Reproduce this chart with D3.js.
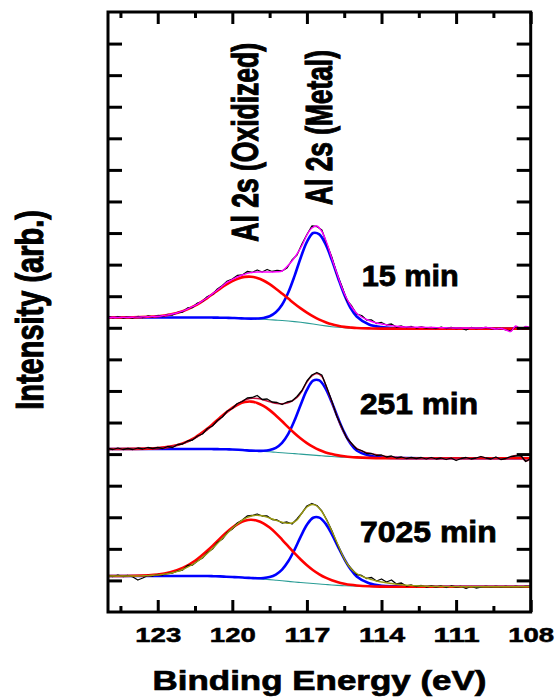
<!DOCTYPE html>
<html><head><meta charset="utf-8">
<script src="https://cdn.jsdelivr.net/npm/d3@7"></script>
<style>
html,body{margin:0;padding:0;background:#fff;}
svg{display:block;font-family:Arial,"Liberation Sans",Helvetica,sans-serif;}
</style>
</head><body>
<svg id="chart" width="558" height="700"></svg>
<script>
// ---------------- DATA ----------------
const xMajorTicks = [123, 120, 117, 114, 111, 108];
const xMinorTicks = [124.5, 121.5, 118.5, 115.5, 112.5, 109.5];
const yTickCount = 19;
const spectrumLabels = ["15 min", "251 min", "7025 min"];
const peakLabels = ["Al 2s (Oxidized)", "Al 2s (Metal)"];

// energy grid of the fitted curves (eV)
const fitEnergy = [125,124,123,122.5,122,121.5,121,120.75,120.5,120.25,120,119.75,119.5,119.25,119,118.75,118.5,118.25,118,117.75,117.5,117.25,117,116.75,116.5,116.25,116,115.75,115.5,115.25,115,114.5,114,113.5,113,112,111,110,109,108];
// energy grid of the measured spectra (eV)
const rawEnergy = [125,124.8,124.6,124.4,124.2,124,123.8,123.6,123.4,123.2,123,122.8,122.6,122.4,122.2,122,121.8,121.6,121.4,121.2,121,120.8,120.6,120.4,120.2,120,119.8,119.6,119.4,119.2,119,118.8,118.6,118.4,118.2,118,117.8,117.6,117.4,117.2,117,116.8,116.6,116.4,116.2,116,115.8,115.6,115.4,115.2,115,114.8,114.6,114.4,114.2,114,113.8,113.6,113.4,113.2,113,112.8,112.6,112.4,112.2,112,111.8,111.6,111.4,111.2,111,110.8,110.6,110.4,110.2,110,109.8,109.6,109.4,109.2,109,108.8,108.6,108.4,108.2,108];

// ---- 15 min (offset spectrum, arb. units) ----
const base15 = [294.5,294.5,294.5,294.5,294.5,294.5,294.5,294.4,294.3,294.2,294.0,293.8,293.5,293.3,293.0,292.7,292.3,291.9,291.5,291.0,290.4,289.7,288.9,288.0,287.0,286.1,285.3,284.7,284.2,283.9,283.7,283.5,283.4,283.4,283.4,283.4,283.4,283.4,283.4,283.4];
const oxid15 = [294.5,294.6,295.7,297.4,300.7,306.3,314.2,318.6,323.1,327.3,330.9,333.6,335.1,335.3,334.0,331.5,327.8,323.3,318.4,313.4,308.3,303.6,299.4,295.6,292.4,289.8,287.7,286.2,285.1,284.5,284.0,283.6,283.4,283.4,283.4,283.4,283.4,283.4,283.4,283.4];
const metal15 = [294.5,294.5,294.5,294.5,294.5,294.5,294.5,294.4,294.3,294.2,294.0,293.8,293.5,293.4,293.5,294.0,295.7,299.7,307.3,319.5,335.9,354.3,370.2,379.0,377.6,367.8,352.1,334.3,317.5,304.2,295.5,287.5,284.9,283.9,283.6,283.4,283.4,283.4,283.4,283.4];
const env15 = [294.5,294.5,294.6,294.6,294.7,294.8,294.9,295.1,295.3,295.5,295.7,296.3,297.1,298.0,299.3,300.8,303.0,305.3,307.9,311.2,314.5,318.1,322,326,329.8,332.5,335,337,338.6,339.6,340,340,340,340,340.2,341,345.5,351,358,366.5,377,384,386,380.5,369,353.7,339,325,313.5,305,298.7,295,292.5,290.5,289,288,287.2,286.4,285.8,285.3,285,284.9,284.8,284.7,284.6,284.5,284.4,284.3,284.2,284.1,284,284,284,284,284,284,284.5,284,283,283.5,282,280.5,286,283,285.5,284];
const raw15 = [296,294,295.5,294,295,294,295.5,294.5,296,295,296.5,295.5,297.5,297,299.5,300,304,304.5,309,310.5,315.5,317.5,323,326.5,331,333,336.5,337,340.5,339.5,342,340,342.5,340.5,341.5,341,344,352,357,368,377.5,386,385.5,382,368,355,338,326,312,306,298,296.5,292,292,288.5,289.5,287,288,285,286,284.5,285.5,284,285,284,284.5,283.5,285,283.5,284.5,283.5,284,282,284.5,283.5,284,284.5,283.5,283,283.5,282,281,285.5,283.5,285,284];

// ---- 251 min ----
const base251 = [163.0,163.0,163.0,163.0,163.0,163.0,163.0,162.9,162.8,162.7,162.5,162.2,161.8,161.4,161.0,160.6,160.2,159.7,159.3,158.8,158.4,157.9,157.4,156.9,156.4,155.9,155.5,155.1,154.8,154.5,154.3,154.0,153.8,153.8,153.8,153.8,153.8,153.8,153.8,153.8];
const oxid251 = [163.0,163.1,163.9,165.4,168.6,174.5,183.4,188.7,194.2,199.5,204.2,207.8,209.9,210.4,209.1,206.2,201.9,196.5,190.7,184.6,178.8,173.5,168.9,165.1,162.0,159.6,157.9,156.6,155.7,155.0,154.6,154.1,153.8,153.8,153.8,153.8,153.8,153.8,153.8,153.8];
const metal251 = [163.0,163.0,163.0,163.0,163.0,163.0,163.0,162.9,162.8,162.7,162.5,162.2,161.8,161.4,161.2,161.2,162.0,164.2,169.2,178.2,191.4,207.3,222.1,231.4,231.6,223.5,209.7,193.9,179.6,168.6,161.5,156.5,154.6,154.1,153.9,153.8,153.8,153.8,153.8,153.8];
const env251 = [163,163,163,163.1,163.1,163.2,163.3,163.4,163.6,163.8,164.1,164.5,165.1,165.9,167,168.4,170.2,172.5,175.3,178.6,182.3,186.5,190.8,195.5,200,204,207.7,210.8,212.8,213.7,213.5,212.5,211,209.5,208.5,208.3,209,211,214.5,221,230,236,238.5,235.5,224,210,196.5,184,174.5,168,163.7,161,159.3,158.2,157.2,156.3,155.6,155.1,154.7,154.4,154.2,154.1,154,154,153.9,153.9,153.8,153.8,153.8,153.8,153.6,153.7,153.8,153.8,153.8,155,154,153.5,154.5,153,153.3,155,156.5,156,151,153.5];
const raw251 = [163.5,162.5,164,162.5,163.5,162.5,164,163,164.5,163.5,164.5,163.5,165.5,164.5,167.5,168,171,172,176,178,183.5,186,191.5,195,201,203.5,208.5,210.5,214,214.5,216.5,212.5,213,210,209.5,207.5,210,211,215.5,221.5,231,237,239.5,237,224.5,211,196,185,174,168.5,163,161.5,158.5,158.5,156.5,157,155,156,154,155,153.5,154.5,153.5,154.5,153,154.5,153,154,152.5,154,151.5,153.5,154.5,153,154,155.5,154,153,155,152.5,153.5,155.5,156,156.5,150.5,153.5];

// ---- 7025 min ----
const base7025 = [36.0,36.0,36.0,36.0,36.0,36.0,36.0,35.8,35.6,35.3,35.0,34.7,34.3,33.9,33.4,32.9,32.4,31.8,31.2,30.6,30.0,29.5,29.0,28.5,28.0,27.5,27.0,26.6,26.3,26.0,25.8,25.5,25.3,25.3,25.3,25.3,25.3,25.3,25.3,25.3];
const oxid7025 = [36.0,36.2,37.5,39.7,44.0,51.2,61.5,67.3,73.4,79.2,84.4,88.5,91.2,92.2,91.3,88.7,84.4,78.9,72.4,65.6,58.8,52.5,46.8,41.8,37.7,34.3,31.7,29.7,28.3,27.2,26.5,25.7,25.4,25.3,25.3,25.3,25.3,25.3,25.3,25.3];
const metal7025 = [36.0,36.0,36.0,36.0,36.0,36.0,36.0,35.8,35.6,35.3,35.0,34.7,34.3,34.0,33.7,33.9,34.9,37.4,42.4,50.7,62.2,75.4,87.2,94.3,94.4,88.4,77.9,65.3,53.2,43.0,35.6,28.7,26.3,25.6,25.4,25.3,25.3,25.3,25.3,25.3];
const env7025 = [36,36,36,36,36,36,36,36.2,36.4,36.7,37.1,37.6,38.3,39.3,40.7,42.5,44.8,47.5,50.8,54.6,58.8,63.5,68.5,73.7,78.8,83.7,88,91.8,94.6,96.3,96.8,96.2,94.8,93,91.3,89.8,88.8,89,92,99,105,107.5,106,100.5,91.5,81,70,58.5,49,42.5,38.5,35.8,33.8,32.3,31,30,29.2,28.5,27.8,27.2,26.8,26.5,26.2,26,25.8,25.6,25.5,25.5,25.4,25.4,25.4,25.3,25.3,25.3,25.3,25.3,25.3,25.3,25.3,25.3,25.3,25.3,25.3,25.3,25.3,25.3];
const raw7025 = [36.5,35.5,37,35.5,36.5,35,32,34,36.5,36,37.5,37,38.5,39,41,42,46.5,47,51,54,59.5,63,69.5,73,79.5,83,89,92,96,96.5,98,96,96,92.5,92,89,90,88,93,99,106,108.5,106.5,101,92,81.5,69,58,48.5,43,37.5,36.5,33.5,34.5,31,33,30,32,28,29,26,27,25.5,26.5,25,26,25,26,24.5,26,25,25.5,23.5,25.5,24,25,25.5,25,25.5,25,25.5,25,25.5,25,25.5,25.5];

// ---------------- LAYOUT / STYLE ----------------
const W = 558, H = 700;
const plot = {left: 108, right: 530.7, top: 12, bottom: 612};
const styles = {
  base: {color: "#2a9d96", width: 1.1},
  oxid: {color: "#ff0000", width: 2.6},
  metal: {color: "#0000ff", width: 2.6},
  raw: {color: "#000000", width: 1.3},
  env: ["#ff00ff", "#c8103c", "#9a9a10"],
  envOnTop: [true, false, true]
};

const spectra = [
  {label: spectrumLabels[0], base: base15, oxid: oxid15, metal: metal15, env: env15, raw: raw15},
  {label: spectrumLabels[1], base: base251, oxid: oxid251, metal: metal251, env: env251, raw: raw251},
  {label: spectrumLabels[2], base: base7025, oxid: oxid7025, metal: metal7025, env: env7025, raw: raw7025}
];

const svg = d3.select("#chart");
svg.append("rect").attr("width", W).attr("height", H).attr("fill", "#fff");

const x = d3.scaleLinear().domain([125, 108]).range([plot.left, plot.right]);
const y = d3.scaleLinear().domain([0, 600]).range([plot.bottom, plot.top]);

svg.append("clipPath").attr("id", "clip").append("rect")
  .attr("x", plot.left).attr("y", plot.top)
  .attr("width", plot.right - plot.left).attr("height", plot.bottom - plot.top);

const g = svg.append("g").attr("clip-path", "url(#clip)");

const fitLine = d3.line().x((d, i) => x(fitEnergy[i])).y(d => y(d)).curve(d3.curveCatmullRom.alpha(0.5));
const envLine = d3.line().x((d, i) => x(rawEnergy[i])).y(d => y(d)).curve(d3.curveCatmullRom.alpha(0.5));
const rawLine = d3.line().x((d, i) => x(rawEnergy[i])).y(d => y(d));

function drawPath(data, gen, color, width) {
  g.append("path").datum(data).attr("d", gen)
    .attr("fill", "none").attr("stroke", color).attr("stroke-width", width)
    .attr("stroke-linejoin", "round").attr("stroke-linecap", "round");
}

spectra.forEach((s, k) => {
  drawPath(s.base, fitLine, styles.base.color, styles.base.width);
  drawPath(s.metal, fitLine, styles.metal.color, styles.metal.width);
  drawPath(s.oxid, fitLine, styles.oxid.color, styles.oxid.width);
  if (!styles.envOnTop[k]) drawPath(s.env, envLine, styles.env[k], 1.5);
  drawPath(s.raw, rawLine, styles.raw.color, styles.raw.width);
  if (styles.envOnTop[k]) drawPath(s.env, envLine, styles.env[k], 1.4);
});

// ---------------- AXES ----------------
const yTicks = d3.range(1, yTickCount).map(k => k * 600 / yTickCount);

function styleAxis(sel) {
  sel.selectAll(".domain").remove();
  sel.selectAll(".tick line").attr("stroke", "#000").attr("stroke-width", 3);
}

const bottomMajor = svg.append("g").attr("transform", `translate(0,${plot.bottom})`)
  .call(d3.axisBottom(x).tickValues(xMajorTicks).tickSizeInner(-12).tickSizeOuter(0).tickPadding(16).tickFormat(d3.format("d")));
styleAxis(bottomMajor);
bottomMajor.selectAll(".tick text")
  .attr("fill", "#000").attr("font-size", 20).attr("font-weight", "bold")
  .attr("font-family", "Arial, 'Liberation Sans', sans-serif")
  .attr("stroke", "#000").attr("stroke-width", 0.5)
  .attr("textLength", 46).attr("lengthAdjust", "spacingAndGlyphs");

svg.append("g").attr("transform", `translate(0,${plot.bottom})`)
  .call(d3.axisBottom(x).tickValues(xMinorTicks).tickSizeInner(-6).tickSizeOuter(0).tickFormat(""))
  .call(styleAxis);
svg.append("g").attr("transform", `translate(0,${plot.top})`)
  .call(d3.axisTop(x).tickValues(xMajorTicks).tickSizeInner(-12).tickSizeOuter(0).tickFormat(""))
  .call(styleAxis);
svg.append("g").attr("transform", `translate(0,${plot.top})`)
  .call(d3.axisTop(x).tickValues(xMinorTicks).tickSizeInner(-6).tickSizeOuter(0).tickFormat(""))
  .call(styleAxis);
svg.append("g").attr("transform", `translate(${plot.left},0)`)
  .call(d3.axisLeft(y).tickValues(yTicks).tickSizeInner(-14).tickSizeOuter(0).tickFormat(""))
  .call(styleAxis);
svg.append("g").attr("transform", `translate(${plot.right},0)`)
  .call(d3.axisRight(y).tickValues(yTicks).tickSizeInner(-14).tickSizeOuter(0).tickFormat(""))
  .call(styleAxis);

svg.append("rect")
  .attr("x", plot.left).attr("y", plot.top)
  .attr("width", plot.right - plot.left).attr("height", plot.bottom - plot.top)
  .attr("fill", "none").attr("stroke", "#000").attr("stroke-width", 3);

// ---------------- TEXT ----------------
function addText(txt, opts) {
  const t = svg.append("text")
    .attr("transform", opts.transform)
    .attr("text-anchor", opts.anchor || "middle")
    .attr("font-size", opts.size)
    .attr("font-weight", "bold")
    .attr("fill", "#000")
    .attr("stroke", "#000")
    .attr("stroke-width", opts.sw || 0.6)
    .text(txt);
  if (opts.len) t.attr("textLength", opts.len).attr("lengthAdjust", "spacingAndGlyphs");
  return t;
}

addText("Binding Energy (eV)", {transform: "translate(319.5,690)", size: 28, len: 334, sw: 0.7});
// rotated labels: glyphs stretched across the baseline as in the reference
addText("Intensity (arb.)", {transform: "translate(42.5,310) scale(1.35,1) rotate(-90)", size: 29, sw: 0.8});
addText(peakLabels[0], {transform: "translate(258.3,142.3) scale(1.4,1) rotate(-90)", size: 26.5, sw: 0.8});
addText(peakLabels[1], {transform: "translate(331.7,127.5) scale(1.4,1) rotate(-90)", size: 26.3, sw: 0.8});

const labelPos = [[361.7, 286, 97], [360, 414, 118], [360, 542.3, 136.7]];
spectra.forEach((s, k) => {
  addText(s.label, {transform: `translate(${labelPos[k][0]},${labelPos[k][1]})`, anchor: "start", size: 29, len: labelPos[k][2], sw: 0.8});
});
</script>
</body></html>
